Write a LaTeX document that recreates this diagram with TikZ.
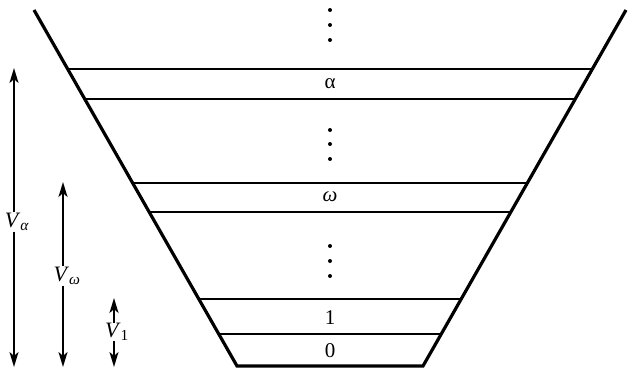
\documentclass[tikz,border=0pt]{standalone}
\usepackage{fontspec}
\setmainfont{Liberation Serif}
\usepackage{tikz}
\usetikzlibrary{arrows.meta}

\begin{document}
\begin{tikzpicture}[
  x=1pt, y=-1pt,
  font=\fontsize{21}{24}\selectfont,
  wall/.style={line width=3.2pt},
  level/.style={line width=2pt},
  lbl/.style={inner sep=1pt},
  vlbl/.style={inner sep=0.5pt, font=\fontsize{22}{24}\selectfont},
  vol/.style={line width=2.2pt, -{Stealth[length=15pt, width=9pt, inset=4pt]}},
  dot/.style={fill, circle, inner sep=0pt, minimum size=4pt}
]
\useasboundingbox (0,0) rectangle (628,369);

% ---- vessel ----
\coordinate (tl) at (34,10);
\coordinate (bl) at (237,366);
\coordinate (br) at (423,366);
\coordinate (tr) at (626,10);
\draw[wall] (tl) -- (bl) -- (br) -- (tr);

% ---- levels ----
\foreach \y in {69,99,183,212,299,334}
  \draw[level] ({34+0.570*(\y-10)},\y) -- ({626-0.570*(\y-10)},\y);

\node[lbl] (alpha) at (330,84)  {α};
\node[lbl] (omega) at (330,197) {\textit{ω}};
\node[lbl] (one)   at (330,318) {1};
\node[lbl] (zero)  at (330,351) {0};

\foreach \y in {10,25,40,130,144,159,246,261,276}
  \node[dot] at (330,\y) {};

% ---- volumes ----
\coordinate (Vat) at (14,68);
\coordinate (Vab) at (14,367);
\coordinate (Vot) at (63,182);
\coordinate (Vob) at (63,367);
\coordinate (V1t) at (114,298);
\coordinate (V1b) at (114,367);

\node[vlbl] (Va) at (17,222)  {\textit{V}\textsubscript{\textit{α}}};
\node[vlbl] (Vo) at (67,276)  {\textit{V}\textsubscript{\textit{ω}}};
\node[vlbl] (V1) at (117,332) {\textit{V}\textsubscript{1}};

\draw[vol] (Va.north -| Vat) -- (Vat);
\draw[vol] (Va.south -| Vab) -- (Vab);
\draw[vol] (Vo.north -| Vot) -- (Vot);
\draw[vol] (Vo.south -| Vob) -- (Vob);
\draw[vol] (V1.north -| V1t) -- (V1t);
\draw[vol] (V1.south -| V1b) -- (V1b);
\end{tikzpicture}
\end{document}
